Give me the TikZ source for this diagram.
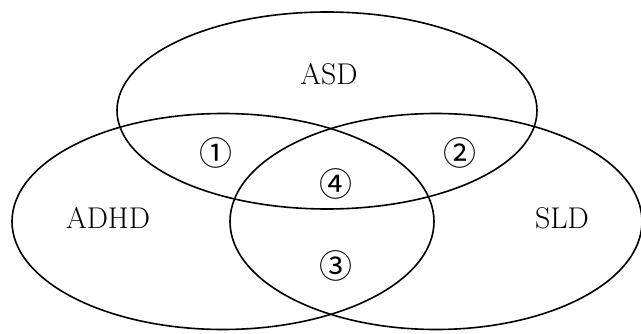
\documentclass[tikz,border=0pt]{standalone}
\usepackage{fontspec}
\newfontfamily\circfont{Noto Sans CJK SC}
\begin{document}
\begin{tikzpicture}[x=1pt,y=-1pt,
  setline/.style={line width=1.6pt},
  lbl/.style={font=\fontsize{30}{33}\selectfont},
  num/.style={font=\circfont\fontsize{33}{36}\selectfont}]
\useasboundingbox (0,0) rectangle (641,334);
\draw[setline] (327,110.5) ellipse [x radius=210, y radius=98.5];
\draw[setline] (223,221.5) ellipse [x radius=211, y radius=108];
\draw[setline] (436,221.5) ellipse [x radius=206, y radius=108];
\node[lbl] (asd) at (329,74) {ASD};
\node[lbl] (adhd) at (108,218) {ADHD};
\node[lbl] (sld) at (562,218) {SLD};
\node[num] (n1) at (216,153) {①};
\node[num] (n2) at (460,153) {②};
\node[num] (n4) at (336,184) {④};
\node[num] (n3) at (336,266) {③};
\end{tikzpicture}
\end{document}
